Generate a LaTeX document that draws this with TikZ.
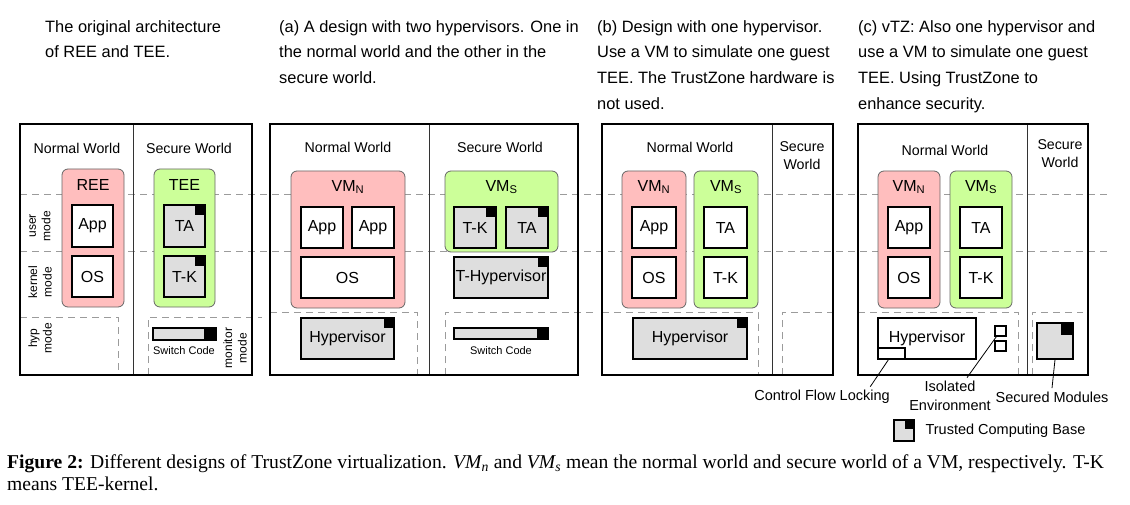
\documentclass[tikz,border=0pt]{standalone}
\usepackage{fontspec}
\setmainfont{Liberation Serif}
\setsansfont{Liberation Sans}
\definecolor{reePink}{RGB}{255,190,190}
\definecolor{teeGreen}{RGB}{204,255,153}
\definecolor{tcbGray}{RGB}{222,222,222}
\definecolor{modeGray}{RGB}{155,155,155}

\begin{document}
\begin{tikzpicture}
[x=1pt,y=-1pt,font=\sffamily,
  worldFrame/.style={line width=2.4pt},
  worldSplit/.style={line width=1pt,draw=black!80},
  modeLine/.style={modeGray,dash pattern=on 7pt off 5pt,line width=1pt},
  vmBox/.style={draw=black!60,line width=0.8pt,rounded corners=6pt,inner sep=0pt},
  reeBox/.style={vmBox,fill=reePink},
  teeBox/.style={vmBox,fill=teeGreen},
  sz/.style 2 args={minimum width=#1pt,minimum height=#2pt},
  swBox/.style={draw,line width=1.4pt,fill=white,inner sep=0pt,font=\sffamily\fontsize{16}{18}\selectfont},
  tcbBox/.style={swBox,fill=tcbGray},
  worldLabel/.style={align=center,font=\sffamily\fontsize{14.2}{18}\selectfont},
  vmLabel/.style={font=\sffamily\fontsize{16}{18}\selectfont},
  modeLabel/.style={rotate=90,align=center,inner sep=0pt,font=\sffamily\fontsize{12}{14.5}\selectfont},
  smallLabel/.style={font=\sffamily\fontsize{11}{13}\selectfont},
  noteLabel/.style={align=center,font=\sffamily\fontsize{14.5}{19}\selectfont},
  noteLine/.style={line width=0.8pt},
  headText/.style={anchor=north west,align=left,inner sep=0pt,font=\sffamily\fontsize{16.4}{25.7}\selectfont},
  capText/.style={anchor=base west,inner sep=0pt,font=\rmfamily\fontsize{19.6}{22}\selectfont}]
\useasboundingbox (0,0) rectangle (1130,505);

%% headings
\node[headText] (headOrig) at (45,20) {\rule{0pt}{12pt}The original architecture\\of REE and TEE.};
\node[headText] (headA) at (279,20) {\rule{0pt}{12pt}(a) A design with two hypervisors. One in\\the normal world and the other in the\\secure world.};
\node[headText] (headB) at (597,20) {\rule{0pt}{12pt}(b) Design with one hypervisor.\\Use a VM to simulate one guest\\TEE. The TrustZone hardware is\\not used.};
\node[headText] (headC) at (858,20) {\rule{0pt}{12pt}(c) vTZ: Also one hypervisor and\\use a VM to simulate one guest\\TEE. Using TrustZone to\\enhance security.};

%% privilege levels
\draw[modeLine] (20,195) -- (1108,195);
\draw[modeLine] (20,252) -- (1108,252);
\foreach \l/\nr/\sl/\sr/\y in {20/118/148/262/317, 270/417/445/595/312,
  602/758/782/833/312, 858/1018/1032/1083/312}
{
  \draw[modeLine] (\l,\y) -- (\nr,\y) -- (\nr,375);
  \draw[modeLine] (\sl,375) -- (\sl,\y) -- (\sr,\y);
}

%% world frames
\foreach \l/\m/\r in {20/133/252, 270/429/578, 602/772/833, 858/1027/1088}
{
  \draw[worldSplit] (\m,124) -- (\m,375);
  \draw[worldFrame] (\l,124) rectangle (\r,375);
}
\node[worldLabel] (nw1) at (77,148) {Normal World};
\node[worldLabel] (sw1) at (189,148) {Secure World};
\node[worldLabel] (nw2) at (348,147) {Normal World};
\node[worldLabel] (sw2) at (500,147) {Secure World};
\node[worldLabel] (nw3) at (690,147) {Normal World};
\node[worldLabel] (sw3) at (802,156) {Secure\\World};
\node[worldLabel] (nw4) at (945,150) {Normal World};
\node[worldLabel] (sw4) at (1060,154) {Secure\\World};

%% modes
\node[modeLabel] (userMode) at (40,226) {user\\mode};
\node[modeLabel] (kernelMode) at (40,282) {kernel\\mode};
\node[modeLabel] (hypMode) at (40,338) {hyp\\mode};
\node[modeLabel] (monitorMode) at (235,348) {monitor\\mode};

%% original architecture
\node[reeBox,sz={62}{138}] (ree) at (93,238) {};
\node[vmLabel] (reeName) at (93,185) {REE};
\node[teeBox,sz={61}{138}] (tee) at (184.5,238) {};
\node[vmLabel] (teeName) at (184.5,185) {TEE};
\node[swBox,sz={41}{42}] (app1) at (92.5,226) {App};
\node[swBox,sz={41}{41}] (os1) at (92.5,276.5) {OS};
\node[tcbBox,sz={41}{42}] (ta1) at (184.5,226) {TA};
\node[tcbBox,sz={41}{41}] (tk1) at (184.5,276.5) {T-K};
\node[tcbBox,sz={63}{12}] (switch1) at (184.5,334) {};
\node[smallLabel] (switchName1) at (184,351) {Switch Code};

%% (a) two hypervisors
\node[reeBox,sz={114}{137}] (vmn2) at (348,239.5) {};
\node[vmLabel] (vmnName2) at (348,187) {VM\textsubscript{N}};
\node[teeBox,sz={113}{81}] (vms2) at (501.5,211.5) {};
\node[vmLabel] (vmsName2) at (501.5,187) {VM\textsubscript{S}};
\node[swBox,sz={42}{41}] (appA2) at (322,227.5) {App};
\node[swBox,sz={42}{41}] (appB2) at (373,227.5) {App};
\node[swBox,sz={93}{41}] (os2) at (347.5,277.5) {OS};
\node[tcbBox,sz={42}{41}] (tk2) at (475,227.5) {T-K};
\node[tcbBox,sz={42}{41}] (ta2) at (527,227.5) {TA};
\node[tcbBox,sz={94}{41}] (thyp2) at (501,277.5) {T-Hypervisor};
\node[tcbBox,sz={93}{41}] (hyp2) at (347.5,338.5) {Hypervisor};
\node[tcbBox,sz={94}{11}] (switch2) at (501,333.5) {};
\node[smallLabel] (switchName2) at (501,351) {Switch Code};

%% (b) one hypervisor
\node[reeBox,sz={64}{137}] (vmn3) at (654,239.5) {};
\node[vmLabel] (vmnName3) at (654,187) {VM\textsubscript{N}};
\node[teeBox,sz={64}{137}] (vms3) at (726,239.5) {};
\node[vmLabel] (vmsName3) at (726,187) {VM\textsubscript{S}};
\node[swBox,sz={44}{41}] (app3) at (654,227.5) {App};
\node[swBox,sz={44}{41}] (os3) at (654,277.5) {OS};
\node[swBox,sz={43}{41}] (ta3) at (725.5,227.5) {TA};
\node[swBox,sz={43}{41}] (tk3) at (725.5,277.5) {T-K};
\node[tcbBox,sz={114}{41}] (hyp3) at (690,338.5) {Hypervisor};

%% (c) vTZ
\node[reeBox,sz={62}{137}] (vmn4) at (909,239.5) {};
\node[vmLabel] (vmnName4) at (909,187) {VM\textsubscript{N}};
\node[teeBox,sz={62}{137}] (vms4) at (981,239.5) {};
\node[vmLabel] (vmsName4) at (981,187) {VM\textsubscript{S}};
\node[swBox,sz={42}{41}] (app4) at (909,227.5) {App};
\node[swBox,sz={42}{41}] (os4) at (909,277.5) {OS};
\node[swBox,sz={42}{41}] (ta4) at (981,227.5) {TA};
\node[swBox,sz={42}{41}] (tk4) at (981,277.5) {T-K};
\node[swBox,sz={98}{41}] (hyp4) at (927,338.5) {Hypervisor};
\node[swBox,sz={27}{11},line width=1.2pt] (cfl) at (891.5,353.5) {};
\node[swBox,sz={11}{10},line width=1.2pt] (isoA) at (1000.5,331) {};
\node[swBox,sz={11}{10},line width=1.2pt] (isoB) at (1000.5,346) {};
\node[tcbBox,sz={36}{36}] (secMod) at (1055,341) {};

%% notes
\node[noteLabel] (cflNote) at (822,397) {Control Flow Locking};
\node[noteLabel] (isoNote) at (950,396) {Isolated\\Environment};
\node[noteLabel] (secNote) at (1052,397) {Secured Modules};
\draw[noteLine] ([xshift=-3pt]cfl.south) -- ([xshift=-23pt]cflNote.north east);
\draw[noteLine] ([xshift=2pt]isoA.south west) -- ([xshift=17pt]isoNote.north);
\draw[noteLine] (secMod.south) -- (secNote.north);
\node[tcbBox,sz={20}{21}] (tcbKey) at (904,430.5) {};
\node[noteLabel,anchor=west] (tcbNote) at (922,431) {Trusted Computing Base};

%% black corners of the trusted computing base
\foreach \boxname/\w/\h in {ta1/11/11, tk1/11/11, switch1/13/12, tk2/11/11, ta2/11/11,
  thyp2/11/11, hyp2/11/11, switch2/12/11, hyp3/11/11, secMod/13/13, tcbKey/10/10}
{
  \fill (\boxname.north east) rectangle ++(-\w,\h);
}

%% caption
\node[capText] (capA) at (7,468) {\textbf{Figure 2:} Different designs of TrustZone virtualization. \textit{VM\textsubscript{n}} and \textit{VM\textsubscript{s}} mean the normal world and secure world of a VM, respectively. T-K};
\node[capText] (capB) at (7,490) {means TEE-kernel.};
\end{tikzpicture}
\end{document}
